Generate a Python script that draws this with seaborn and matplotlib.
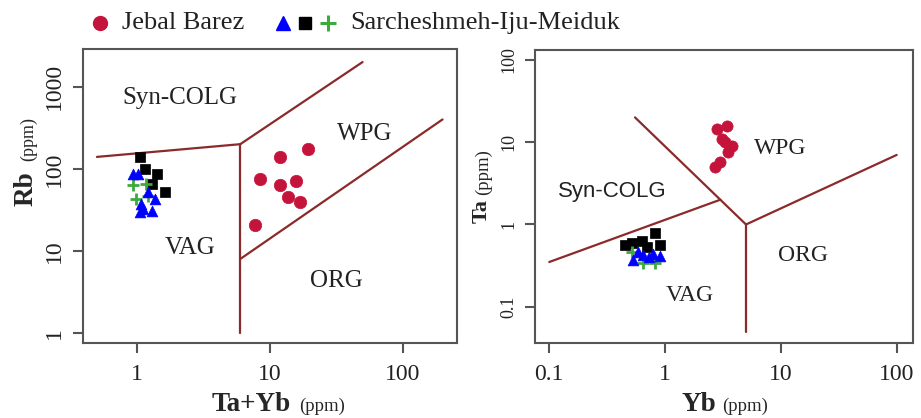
import matplotlib
matplotlib.use("Agg")
import matplotlib.pyplot as plt
import seaborn as sns
from matplotlib.lines import Line2D

sns.set_theme(style="white")
plt.rcParams['font.family'] = ['Liberation Serif', 'DejaVu Serif']

# ---------------- data: panel 1 (Rb vs Ta+Yb) ----------------
jb_tayb = [7.7, 8.4, 11.9, 19.4, 11.9, 15.9, 13.7, 16.8]
jb_rb = [21, 76, 139, 175, 64, 72, 46, 40]

sq_tayb = [1.05, 1.41, 1.15, 1.29, 1.62]
sq_rb = [139, 87, 99, 66, 52]
tri_tayb = [0.94, 1.02, 1.22, 1.37, 1.11, 1.05, 1.29, 1.08]
tri_rb = [87, 87, 52, 43, 32.5, 29.6, 31, 37.4]
pl_tayb = [0.94, 1.18, 0.99, 1.22]
pl_rb = [63, 66, 43, 47]

# boundaries panel 1
b1_x = [[0.5, 6], [6, 50], [6, 6], [6, 200]]
b1_y = [[140, 200], [200, 2000], [200, 1], [8, 400]]
lab1 = ["Syn-COLG", "WPG", "VAG", "ORG"]
lab1_x = [2.1, 51.8, 2.5, 31.7]
lab1_y = [728, 267, 11, 4.35]

# ---------------- data: panel 2 (Ta vs Yb) ----------------
jb_yb = [2.8, 3.4, 3.1, 3.8, 3.5, 3.0, 2.7, 3.3]
jb_ta = [14.5, 15.7, 11.0, 9.1, 7.5, 5.7, 5.0, 10.0]

sq_yb = [0.82, 0.52, 0.63, 0.91, 0.70, 0.45]
sq_ta = [0.79, 0.60, 0.63, 0.56, 0.53, 0.56]
tri_yb = [0.53, 0.65, 0.79, 0.91, 0.72, 0.58]
tri_ta = [0.375, 0.42, 0.44, 0.41, 0.40, 0.46]
pl_yb = [0.52, 0.65, 0.82]
pl_ta = [0.46, 0.34, 0.34]

b2_x = [[0.1, 3], [0.55, 3, 5], [5, 5], [5, 100]]
b2_y = [[0.35, 2], [20, 2, 1], [1, 0.05], [1, 7]]
lab2 = ["Syn-COLG", "WPG", "VAG", "ORG"]
lab2_x = [0.347, 9.84, 1.64, 15.6]
lab2_y = [2.49, 8.29, 0.138, 0.42]

x1_ticks = [1, 10, 100]
y1_ticks = [1, 10, 100, 1000]
x2_ticks = [0.1, 1, 10, 100]
y2_ticks = [0.1, 1, 10, 100]

RED = '#C4143C'
BLUE = '#0000FF'
GREEN = '#3DAA3D'
LINE = '#8B2A2A'
AXC = '#555555'

W, H = 921, 418
fig = plt.figure(figsize=(W / 100, H / 100), dpi=100)
fig.patch.set_facecolor('white')


def px_axes(l, r, t, b):
    return fig.add_axes([l / W, (H - b) / H, (r - l) / W, (b - t) / H])


ax1 = px_axes(83, 457, 49, 343)
ax2 = px_axes(535, 913, 50, 343)


def style(ax, xt, yt, xlim, ylim, ysize):
    ax.set_xscale('log')
    ax.set_yscale('log')
    ax.set_xlim(xlim)
    ax.set_ylim(ylim)
    ax.minorticks_off()
    ax.set_xticks(xt)
    ax.set_xticklabels([f"{v:g}" for v in xt], fontsize=17, color='#222222')
    ax.set_yticks(yt)
    ax.set_yticklabels([f"{v:g}" for v in yt], fontsize=ysize, rotation=90, va='center',
                       color='#222222')
    ax.tick_params(axis='both', which='major', direction='out', length=7, width=1.5,
                   color=AXC, pad=6, bottom=True, left=True)
    ax.tick_params(axis='x', pad=8)
    for s in ax.spines.values():
        s.set_color(AXC)
        s.set_linewidth(1.5)
    ax.grid(False)
    ax.set_xlabel("")
    ax.set_ylabel("")
    ax.set_facecolor('white')


style(ax1, x1_ticks, y1_ticks, (10 ** -0.406, 10 ** 2.41), (10 ** -0.12, 10 ** 3.46), 17)
style(ax2, x2_ticks, y2_ticks, (10 ** -1.123, 10 ** 2.141), (10 ** -1.44, 10 ** 2.12), 13)

for xs, ys in zip(b1_x, b1_y):
    ax1.plot(xs, ys, color=LINE, lw=1.6, zorder=1)
for xs, ys in zip(b2_x, b2_y):
    ax2.plot(xs, ys, color=LINE, lw=1.6, zorder=1)

for t, x, y in zip(lab1, lab1_x, lab1_y):
    ax1.text(x, y, t, fontsize=18, ha='center', va='center', color='#222222')
for t, x, y in zip(lab2, lab2_x, lab2_y):
    fam = ['Liberation Sans', 'DejaVu Sans'] if t == "Syn-COLG" else None
    kw = {'family': fam} if fam else {}
    ax2.text(x, y, t, fontsize=17 if fam is None else 16, ha='center', va='center',
             color='#222222', **kw)


def points(ax, jx, jy, sx, sy, tx, ty, px, py, rsize):
    sns.scatterplot(x=jx, y=jy, ax=ax, marker='o', color=RED, s=rsize, edgecolor=RED,
                    linewidth=0.5, zorder=3)
    sns.scatterplot(x=sx, y=sy, ax=ax, marker='s', color='black', s=42, edgecolor='black',
                    linewidth=0.5, zorder=3)
    sns.scatterplot(x=px, y=py, ax=ax, marker='+', color=GREEN, s=70, linewidth=2, zorder=3)
    sns.scatterplot(x=tx, y=ty, ax=ax, marker='^', color=BLUE, s=60, edgecolor=BLUE,
                    linewidth=0.5, zorder=4)


points(ax1, jb_tayb, jb_rb, sq_tayb, sq_rb, tri_tayb, tri_rb, pl_tayb, pl_rb, 80)
points(ax2, jb_yb, jb_ta, sq_yb, sq_ta, tri_yb, tri_ta, pl_yb, pl_ta, 65)

# ---------------- axis labels ----------------
def fx(p):
    return p / W


def fy(p):
    return (H - p) / H


fig.text(fx(212), fy(411), "Ta+Yb", fontsize=19.5, fontweight='bold', ha='left', va='baseline')
fig.text(fx(299), fy(411), "(ppm)", fontsize=13.5, ha='left', va='baseline')
fig.text(fx(681), fy(411), "Yb", fontsize=19.5, fontweight='bold', ha='left', va='baseline')
fig.text(fx(722), fy(411), "(ppm)", fontsize=13.5, ha='left', va='baseline')

fig.text(fx(33), fy(206), "Rb", fontsize=19.5, fontweight='bold', rotation=90,
         rotation_mode='anchor', ha='left', va='baseline')
fig.text(fx(33), fy(161), "(ppm)", fontsize=13, rotation=90,
         rotation_mode='anchor', ha='left', va='baseline')
fig.text(fx(487), fy(223), "Ta", fontsize=16, fontweight='bold', rotation=90,
         rotation_mode='anchor', ha='left', va='baseline')
fig.text(fx(488), fy(195), "(ppm)", fontsize=13.5, rotation=90,
         rotation_mode='anchor', ha='left', va='baseline')

# ---------------- legend ----------------
ly = fy(23)
fig.add_artist(Line2D([fx(100)], [ly], transform=fig.transFigure, marker='o', ms=10,
                      color=RED, ls='none'))
fig.text(fx(122), ly, "Jebal Barez", fontsize=19, ha='left', va='center', color='#222222')
fig.add_artist(Line2D([fx(283)], [ly], transform=fig.transFigure, marker='^', ms=10,
                      color=BLUE, ls='none'))
fig.add_artist(Line2D([fx(305)], [ly], transform=fig.transFigure, marker='s', ms=8.5,
                      color='black', ls='none'))
fig.add_artist(Line2D([fx(328)], [ly], transform=fig.transFigure, marker='+', ms=12,
                      mew=2.2, color=GREEN, ls='none'))
fig.text(fx(350), ly, "Sarcheshmeh-Iju-Meiduk", fontsize=19, ha='left', va='center',
         color='#222222')

fig.savefig("out.png", dpi=100, facecolor='white')
